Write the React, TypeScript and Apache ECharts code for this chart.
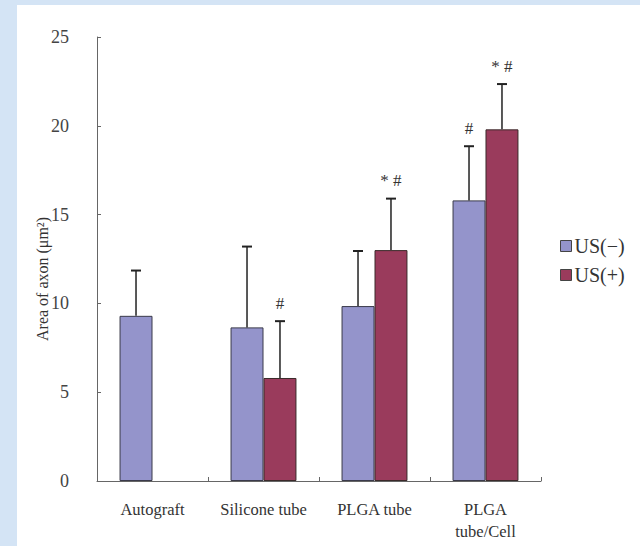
import React, { useEffect, useRef } from "react";
import * as echarts from "echarts";

const categories = ["Autograft", "Silicone tube", "PLGA tube", "PLGA\ntube/Cell"];
const seriesNames = ["US(−)", "US(+)"];
const usNeg = [9.3, 8.65, 9.85, 15.8];
const usNegSd = [2.55, 4.55, 3.1, 3.05];
const usPos: (number | null)[] = [null, 5.8, 13.0, 19.8];
const usPosSd: (number | null)[] = [null, 3.2, 2.9, 2.55];
const usNegMarks = ["", "", "", "#"];
const usPosMarks = ["", "#", "* #", "* #"];
const yTicks = { min: 0, max: 25, interval: 5 };

const BLUE = "#9494cb";
const RED = "#9a3b5c";
const FONT = "'Liberation Serif', 'DejaVu Serif', serif";

function errorSeries(name: string, vals: (number | null)[], sds: (number | null)[], marks: string[], side: number) {
  const data = vals.map((v, i) => [i, v == null ? null : v, sds[i] == null ? null : (sds[i] as number), marks[i]]);
  return {
    type: "custom",
    name: name + " err",
    z: 5,
    silent: true,
    data,
    encode: { x: 0, y: 1 },
    renderItem: (params: any, api: any) => {
      const v = api.value(1);
      const sd = api.value(2);
      if (v == null || isNaN(v) || sd == null || isNaN(sd)) return null;
      const idx = api.value(0);
      const band = api.size([1, 0])[0];
      const barW = band * 0.297;
      const base = api.coord([idx, v]);
      const topPt = api.coord([idx, v + sd]);
      const x = base[0] + side * barW / 2;
      const capW = 10;
      const mark = data[params.dataIndex][3] as string;
      const children: any[] = [
        { type: "line", shape: { x1: x, y1: base[1], x2: x, y2: topPt[1] }, style: { stroke: "#222", lineWidth: 1.5 } },
        { type: "line", shape: { x1: x - capW / 2, y1: topPt[1], x2: x + capW / 2, y2: topPt[1] }, style: { stroke: "#222", lineWidth: 2 } },
      ];
      if (mark) {
        children.push({
          type: "text",
          x: x,
          y: topPt[1] - 18,
          style: { text: mark, fill: "#333", font: "17px " + FONT, align: "center", verticalAlign: "middle" },
        });
      }
      return { type: "group", children };
    },
  };
}

export default function App() {
  const ref = useRef<HTMLDivElement>(null);
  useEffect(() => {
    if (!ref.current) return;
    const chart = echarts.init(ref.current, undefined, { renderer: "svg" });
    chart.setOption({
      animation: false,
      backgroundColor: "#ffffff",
      graphic: [
        { type: "rect", left: 0, top: 0, shape: { width: 17, height: 546 }, style: { fill: "#d4e4f5" }, z: -10 },
        { type: "rect", left: 0, top: 0, shape: { width: 640, height: 5 }, style: { fill: "#d4e4f5" }, z: -10 },
        {
          type: "text",
          x: 42,
          y: 279,
          rotation: Math.PI / 2,
          style: { text: "Area of axon (μm²)", fill: "#333", font: "16px " + FONT, align: "center", verticalAlign: "middle" },
        },
      ],
      legend: {
        orient: "vertical",
        left: 560,
        top: 236,
        padding: 0,
        itemWidth: 11,
        itemHeight: 11,
        itemGap: 9,
        icon: "rect",
        data: seriesNames,
        textStyle: { fontFamily: FONT, fontSize: 20, color: "#333", padding: [0, 0, 0, -2] },
        itemStyle: { borderColor: "#444", borderWidth: 1 },
      },
      grid: { left: 97, right: 99, top: 37, bottom: 65 },
      xAxis: {
        type: "category",
        data: categories,
        axisLine: { lineStyle: { color: "#666", width: 1 } },
        axisTick: { show: true, inside: true, length: 4, lineStyle: { color: "#666" } },
        axisLabel: { interval: 0, hideOverlap: false, fontFamily: FONT, fontSize: 16.5, color: "#333", margin: 17, lineHeight: 22 },
      },
      yAxis: {
        type: "value",
        min: yTicks.min,
        max: yTicks.max,
        interval: yTicks.interval,
        splitLine: { show: false },
        axisLine: { show: true, lineStyle: { color: "#666", width: 1 } },
        axisTick: { show: true, inside: true, length: 4, lineStyle: { color: "#666" } },
        axisLabel: { fontFamily: FONT, fontSize: 18, color: "#444", margin: 28 },
      },
      series: [
        {
          name: seriesNames[0],
          type: "bar",
          data: usNeg,
          barWidth: "29.7%",
          barGap: "0%",
          itemStyle: { color: BLUE, borderColor: "#3a3a4a", borderWidth: 1 },
        },
        {
          name: seriesNames[1],
          type: "bar",
          data: usPos.map((v) => (v == null ? "-" : v)),
          barWidth: "29.7%",
          barGap: "0%",
          itemStyle: { color: RED, borderColor: "#3a2a2a", borderWidth: 1 },
        },
        errorSeries(seriesNames[0], usNeg, usNegSd, usNegMarks, -1),
        errorSeries(seriesNames[1], usPos, usPosSd, usPosMarks, 1),
      ],
    });
    return () => chart.dispose();
  }, []);
  return <div ref={ref} style={{ position: "fixed", left: 0, top: 0, width: 640, height: 546 }} />;
}
